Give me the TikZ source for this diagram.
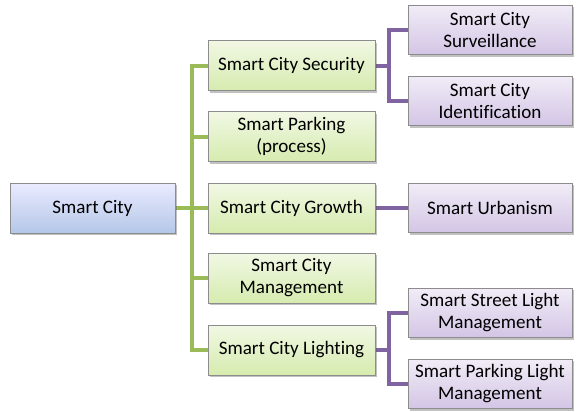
\documentclass[tikz,border=0pt]{standalone}
\usepackage{fontspec}
\setmainfont[Ligatures=NoCommon]{Carlito}
\usetikzlibrary{shadows,backgrounds}
\definecolor{gline}{HTML}{9BBB59}
\definecolor{pline}{HTML}{8064A2}
\definecolor{bordergray}{HTML}{8C8C8C}
\tikzset{
  box/.style={draw=bordergray, line width=0.6pt, align=center, inner sep=1pt,
    font=\fontsize{14.3}{16.5}\selectfont,
    drop shadow={shadow xshift=1.6pt, shadow yshift=-1.6pt, opacity=0.35, fill=black!70}},
  rootbox/.style={box, minimum width=123.75pt, minimum height=37.5pt, top color=blue!8!white, bottom color={rgb,255:red,180;green,199;blue,231}},
  gbox/.style={box, minimum width=125.25pt, minimum height=37.5pt, top color={rgb,255:red,241;green,248;blue,228}, bottom color={rgb,255:red,214;green,235;blue,175}},
  pbox/.style={box, minimum width=123pt, minimum height=37pt, top color={rgb,255:red,241;green,236;blue,247}, bottom color={rgb,255:red,211;green,197;blue,229}},
  gconn/.style={draw=gline, line width=3pt},
  pconn/.style={draw=pline, line width=3pt}
}
\begin{document}
\begin{tikzpicture}[x=0.75pt,y=-0.75pt]
\useasboundingbox (0,0) rectangle (577,411);
\node[rootbox] (root) at (92.5,208) {Smart City};
\node[gbox] (sec) at (291.5,65.5) {Smart City Security};
\node[gbox] (park) at (291.5,136.5) {Smart Parking\\(process)};
\node[gbox] (grow) at (291.5,208) {Smart City Growth};
\node[gbox] (mgmt) at (291.5,278) {Smart City\\Management};
\node[gbox] (lit) at (291.5,350) {Smart City Lighting};
\node[pbox] (surv) at (490,30) {Smart City\\Surveillance};
\node[pbox] (ident) at (490,101) {Smart City\\Identification};
\node[pbox] (urb) at (490,208) {Smart Urbanism};
\node[pbox] (street) at (490,313) {Smart Street Light\\Management};
\node[pbox] (plight) at (490,384) {Smart Parking Light\\Management};
\begin{scope}[on background layer]
\draw[gconn] (root.east) -- (grow.west);
\draw[gconn] (sec.west) -- ++(-16,0) |- (lit.west);
\draw[gconn] (park.west) -- ++(-16,0);
\draw[gconn] (mgmt.west) -- ++(-16,0);
\draw[pconn] (sec.east) -- ++(14,0);
\draw[pconn] (surv.west) -- ++(-19,0) |- (ident.west);
\draw[pconn] (grow.east) -- (urb.west);
\draw[pconn] (lit.east) -- ++(14,0);
\draw[pconn] (street.west) -- ++(-19,0) |- (plight.west);
\end{scope}
\end{tikzpicture}
\end{document}
